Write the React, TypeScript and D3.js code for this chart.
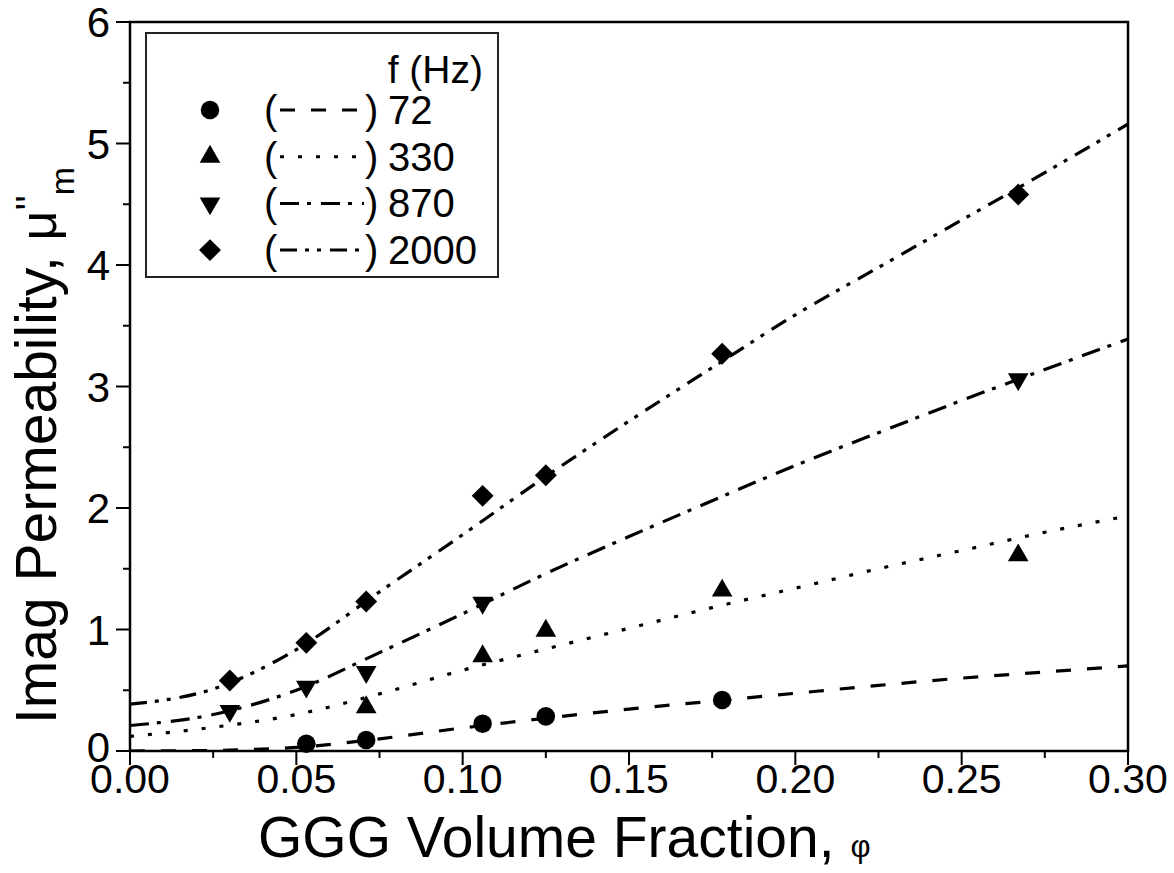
import React from "react";
import * as d3 from "d3";

// fitted curves at regular phi steps
const fitPhi = [0, 0.025, 0.05, 0.075, 0.1, 0.125, 0.15, 0.175, 0.2, 0.225, 0.25, 0.275, 0.3];
const fit72 = [0, 0.005, 0.03, 0.1, 0.19, 0.27, 0.345, 0.41, 0.475, 0.54, 0.6, 0.65, 0.7];
const fit330 = [0.12, 0.195, 0.3, 0.47, 0.665, 0.84, 1.01, 1.18, 1.34, 1.5, 1.65, 1.8, 1.935];
const fit870 = [0.21, 0.3, 0.5, 0.81, 1.13, 1.46, 1.765, 2.06, 2.35, 2.62, 2.885, 3.14, 3.39];
const fit2000 = [0.385, 0.51, 0.835, 1.31, 1.78, 2.26, 2.715, 3.155, 3.59, 3.98, 4.37, 4.76, 5.16];

// measured points
const phi72 = [0.053, 0.071, 0.106, 0.125, 0.178];
const mu72 = [0.06, 0.09, 0.225, 0.285, 0.42];
const phi330 = [0.071, 0.106, 0.125, 0.178, 0.267];
const mu330 = [0.36, 0.78, 0.99, 1.32, 1.61];
const phi870 = [0.03, 0.053, 0.071, 0.106, 0.267];
const mu870 = [0.33, 0.53, 0.65, 1.22, 3.06];
const phi2000 = [0.03, 0.053, 0.071, 0.106, 0.125, 0.178, 0.267];
const mu2000 = [0.58, 0.89, 1.23, 2.1, 2.27, 3.27, 4.58];

const freqs = ["72", "330", "870", "2000"];
const xTicks = [0, 0.05, 0.1, 0.15, 0.2, 0.25, 0.3];
const yTicks = [0, 1, 2, 3, 4, 5, 6];

const FONT = "'Liberation Sans', Arial, sans-serif";

const series = [
  { name: freqs[0], phi: phi72, mu: mu72, fit: fit72, dash: "15,16", shape: "circle" },
  { name: freqs[1], phi: phi330, mu: mu330, fit: fit330, dash: "4,14", shape: "up" },
  { name: freqs[2], phi: phi870, mu: mu870, fit: fit870, dash: "19,8,4,10", shape: "down" },
  { name: freqs[3], phi: phi2000, mu: mu2000, fit: fit2000, dash: "17,8,4,8,4,9", shape: "diamond" },
];

const symbolPath = (shape: string) => {
  if (shape === "circle") return d3.symbol(d3.symbolCircle, 270)();
  if (shape === "diamond") return d3.symbol(d3.symbolSquare, 240)();
  return d3.symbol(d3.symbolTriangle, 185)();
};
const symbolRot = (shape: string) =>
  shape === "down" ? 180 : shape === "diamond" ? 45 : 0;

export default function App() {
  const x = d3.scaleLinear().domain([0, 0.3]).range([130, 1128]);
  const y = d3.scaleLinear().domain([0, 6]).range([751, 22]);
  const [x0, x1] = x.range();
  const [y0, y1] = y.range();

  const line = d3
    .line<[number, number]>()
    .x((d) => x(d[0]))
    .y((d) => y(d[1]))
    .curve(d3.curveMonotoneX);

  const xMinor = d3.range(0, 0.3001, 0.025);
  const yMinor = d3.range(0, 6.001, 0.5);

  // legend layout
  const lg = { x: 146, y: 33, w: 352, h: 244 };
  const rowY = (i: number) => 110 + i * 46.7;

  return (
    <svg
      width={1174}
      height={873}
      style={{ position: "absolute", left: 0, top: 0, background: "#fff" }}
      fontFamily={FONT}
    >
      <defs>
        <clipPath id="plot">
          <rect x={x0} y={y1} width={x1 - x0} height={y0 - y1} />
        </clipPath>
      </defs>

      {/* fit curves */}
      <g clipPath="url(#plot)">
        {series.map((s) => (
          <path
            key={s.name}
            d={line(fitPhi.map((p, i) => [p, s.fit[i]] as [number, number])) || ""}
            fill="none"
            stroke="#000"
            strokeWidth={3.2}
            strokeDasharray={s.dash}
          />
        ))}
      </g>

      {/* markers */}
      {series.map((s) =>
        s.phi.map((p, i) => (
          <path
            key={s.name + i}
            d={symbolPath(s.shape) || ""}
            transform={`translate(${x(p)},${y(s.mu[i])}) rotate(${symbolRot(s.shape)})`}
            fill="#000"
          />
        ))
      )}

      {/* frame */}
      <rect x={x0} y={y1} width={x1 - x0} height={y0 - y1} fill="none" stroke="#000" strokeWidth={2.5} />

      {/* x axis ticks */}
      {xMinor.map((t, i) => (
        <line key={"xm" + i} x1={x(t)} x2={x(t)} y1={y0} y2={y0 + (i % 2 === 0 ? 14 : 7)} stroke="#000" strokeWidth={2} />
      ))}
      {xTicks.map((t) => (
        <text key={"xt" + t} x={x(t)} y={y0 + 42} textAnchor="middle" fontSize={41}>
          {d3.format(".2f")(t)}
        </text>
      ))}

      {/* y axis ticks */}
      {yMinor.map((t, i) => (
        <line key={"ym" + i} x1={x0} x2={x0 - (i % 2 === 0 ? 14 : 7)} y1={y(t)} y2={y(t)} stroke="#000" strokeWidth={2} />
      ))}
      {yTicks.map((t) => (
        <text key={"yt" + t} x={x0 - 20} y={y(t) + (t === 0 ? 11 : 15)} textAnchor="end" fontSize={42}>
          {t}
        </text>
      ))}

      {/* axis titles */}
      <text x={258} y={857} fontSize={57}>
        GGG Volume Fraction,{" "}
        <tspan fontSize={31}>φ</tspan>
      </text>
      <text transform="translate(56,724) rotate(-90)" fontSize={57}>
        Imag Permeability,{" "}
        <tspan fontSize={52}>μ</tspan>
        <tspan fontSize={40} dy={-12}>''</tspan>
        <tspan fontSize={34} dy={30}>m</tspan>
      </text>

      {/* legend */}
      <rect x={lg.x} y={lg.y} width={lg.w} height={lg.h} fill="#fff" stroke="#222" strokeWidth={2} />
      <text x={483} y={83} textAnchor="end" fontSize={39}>
        f (Hz)
      </text>
      {series.map((s, i) => (
        <g key={"lg" + s.name}>
          <path
            d={symbolPath(s.shape) || ""}
            transform={`translate(210,${rowY(i)}) rotate(${symbolRot(s.shape)})`}
            fill="#000"
          />
          <text x={264} y={rowY(i) + 14} fontSize={40}>(</text>
          <line x1={280} x2={364} y1={rowY(i)} y2={rowY(i)} stroke="#000" strokeWidth={3} strokeDasharray={s.dash} />
          <text x={365} y={rowY(i) + 14} fontSize={40}>)</text>
          <text x={388} y={rowY(i) + 14} fontSize={40}>{s.name}</text>
        </g>
      ))}
    </svg>
  );
}
